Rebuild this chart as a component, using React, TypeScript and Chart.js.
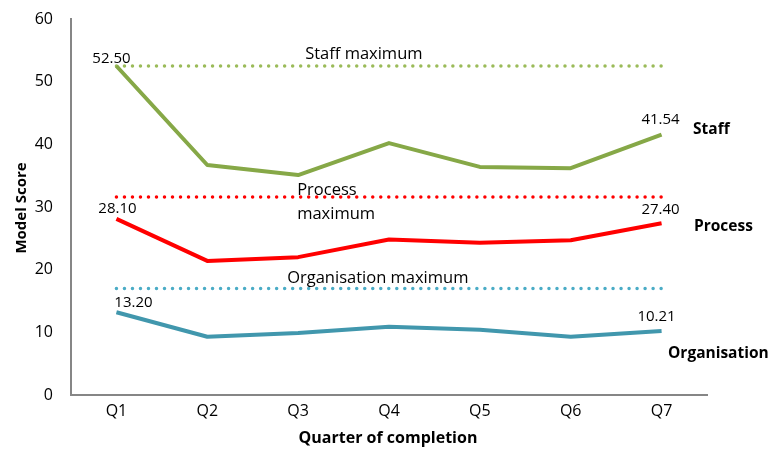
import React, { useEffect, useRef } from "react";
import { Chart, registerables } from "chart.js";

Chart.register(...registerables);

const categories = ["Q1", "Q2", "Q3", "Q4", "Q5", "Q6", "Q7"];
const staff = [52.5, 36.7, 35.1, 40.2, 36.4, 36.2, 41.54];
const processScores = [28.1, 21.4, 22.0, 24.8, 24.3, 24.7, 27.4];
const organisation = [13.2, 9.3, 9.9, 10.9, 10.4, 9.3, 10.21];
const staffMax = [52.5, 52.5, 52.5, 52.5, 52.5, 52.5, 52.5];
const processMax = [31.6, 31.6, 31.6, 31.6, 31.6, 31.6, 31.6];
const organisationMax = [17, 17, 17, 17, 17, 17, 17];
const yTicks = [0, 10, 20, 30, 40, 50, 60];

const FONT = "'Open Sans', 'Noto Sans', sans-serif";
const GREEN = "#86a847";
const GREEN_LIGHT = "#9bbb59";
const RED = "#ff0000";
const TEAL = "#4197ad";
const TEAL_LIGHT = "#4bacc6";

const textPlugin = {
  id: "textPlugin",
  afterDatasetsDraw(chart: any) {
    const ctx = chart.ctx;
    const x = chart.scales.x;
    const y = chart.scales.y;
    ctx.save();
    ctx.fillStyle = "#000";
    ctx.textBaseline = "middle";
    ctx.font = `15px ${FONT}`;
    ctx.textAlign = "center";
    const fmt = (v: number) => v.toFixed(2);
    const pts = (i: number) => chart.getDatasetMeta(i).data;
    const s = pts(0), p = pts(1), o = pts(2);
    ctx.fillText(fmt(staff[0]), s[0].x - 5, s[0].y - 7);
    ctx.fillText(fmt(processScores[0]), p[0].x + 1, p[0].y - 10);
    ctx.fillText(fmt(organisation[0]), o[0].x + 17, o[0].y - 10);
    ctx.fillText(fmt(staff[6]), s[6].x - 1, s[6].y - 15);
    ctx.fillText(fmt(processScores[6]), p[6].x - 1, p[6].y - 14);
    ctx.fillText(fmt(organisation[6]), o[6].x - 5, o[6].y - 14);

    ctx.textAlign = "left";
    ctx.font = `16.5px ${FONT}`;
    const q3 = x.getPixelForValue(2);
    ctx.fillText("Staff maximum", q3 + 7, y.getPixelForValue(staffMax[0]) - 12);
    ctx.fillText("Process", q3 - 1, y.getPixelForValue(processMax[0]) - 7);
    ctx.fillText("maximum", q3 - 1, y.getPixelForValue(processMax[0]) + 17);
    ctx.fillText("Organisation maximum", q3 - 11, y.getPixelForValue(organisationMax[0]) - 10);

    ctx.font = `bold 15.5px ${FONT}`;
    ctx.fillText("Staff", 693, y.getPixelForValue(staff[6]) - 5);
    ctx.fillText("Process", 694, y.getPixelForValue(processScores[6]) + 3);
    ctx.fillText("Organisation", 668, y.getPixelForValue(organisation[6]) + 23);

    ctx.textAlign = "center";
    ctx.font = `bold 16px ${FONT}`;
    ctx.fillText("Quarter of completion", 388, 438);
    ctx.translate(22, 208);
    ctx.rotate(-Math.PI / 2);
    ctx.font = `bold 15px ${FONT}`;
    ctx.fillText("Model Score", 0, 0);
    ctx.restore();
  },
};

export default function App() {
  const ref = useRef<HTMLCanvasElement>(null);
  useEffect(() => {
    if (!ref.current) return;
    const mainLine = (label: string, data: number[], color: string) => ({
      label,
      data,
      borderColor: color,
      backgroundColor: color,
      borderWidth: 4,
      pointRadius: 0,
      tension: 0,
      borderJoinStyle: "round" as const,
    });
    const maxLine = (label: string, data: number[], color: string) => ({
      label,
      data,
      borderColor: color,
      backgroundColor: color,
      borderWidth: 3.5,
      borderDash: [0.01, 8],
      borderCapStyle: "round" as const,
      pointRadius: 0,
    });
    const chart = new Chart(ref.current, {
      type: "line",
      data: {
        labels: categories,
        datasets: [
          mainLine("Staff", staff, GREEN),
          mainLine("Process", processScores, RED),
          mainLine("Organisation", organisation, TEAL),
          maxLine("Staff maximum", staffMax, GREEN_LIGHT),
          maxLine("Process maximum", processMax, RED),
          maxLine("Organisation maximum", organisationMax, TEAL_LIGHT),
        ],
      },
      options: {
        animation: false,
        responsive: false,
        maintainAspectRatio: false,
        layout: { padding: { top: 19, right: 64, left: 0, bottom: 0 } },
        plugins: {
          legend: { display: false },
          tooltip: { enabled: false },
        },
        scales: {
          x: {
            offset: true,
            grid: { display: false, drawTicks: false },
            border: { display: true, color: "#868686", width: 2 },
            ticks: { color: "#000", font: { family: FONT, size: 16 }, padding: 7 },
            afterFit: (scale: any) => {
              scale.height = 55;
              scale.paddingLeft = 0;
              scale.paddingRight = 0;
            },
          },
          y: {
            min: 0,
            max: 60,
            afterBuildTicks: (scale: any) => {
              scale.ticks = yTicks.map((v) => ({ value: v }));
            },
            grid: { display: false, drawTicks: false },
            border: { display: true, color: "#868686", width: 2 },
            ticks: { color: "#000", font: { family: FONT, size: 16 }, padding: 18 },
            afterFit: (scale: any) => {
              scale.width = 71;
              scale.paddingTop = 0;
              scale.paddingBottom = 0;
            },
          },
        },
      },
      plugins: [textPlugin],
    });
    return () => chart.destroy();
  }, []);
  return (
    <div style={{ position: "fixed", left: 0, top: 0, width: 771, height: 450, background: "#fff" }}>
      <canvas ref={ref} width={771} height={450} style={{ width: 771, height: 450 }} />
    </div>
  );
}
